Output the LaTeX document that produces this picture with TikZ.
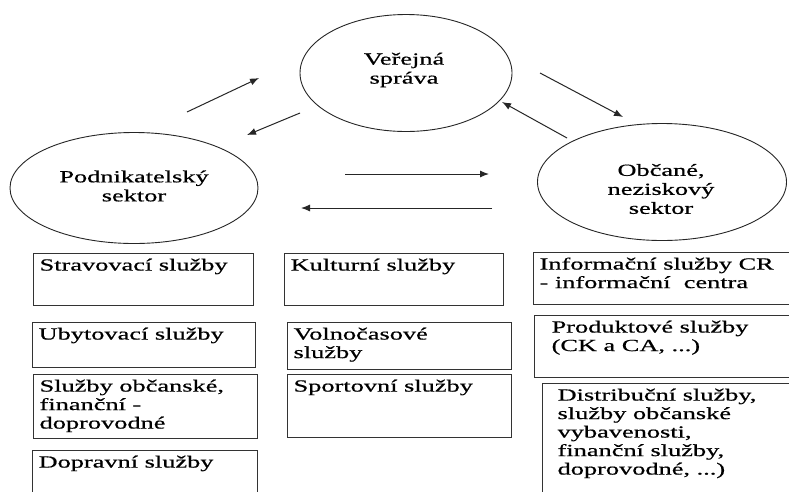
\documentclass[tikz,border=0pt]{standalone}
\usepackage{fontspec}
\setmainfont[FakeStretch=1.55,FakeBold=0.6]{Liberation Serif}
\usetikzlibrary{shapes.geometric,arrows.meta}
\tikzset{
  oval/.style={ellipse, draw=black!85, line width=0.9pt, inner sep=0pt},
  ovaltext/.style={align=center, font=\rmfamily\fontsize{17}{19}\selectfont, inner sep=0pt},
  sbox/.style={draw=black!80, line width=1.2pt, anchor=north west, inner xsep=6pt, inner ysep=4pt, font=\rmfamily\fontsize{17}{18.5}\selectfont},
  arr/.style={draw=black!85, line width=1pt, -{Latex[length=9pt,width=7pt]}}
}
\newcommand{\bxt}[3]{\parbox[t][#1][t]{#2}{\raggedright\strut #3}}
\begin{document}
\begin{tikzpicture}[x=1pt,y=-1pt]
\clip (0,0) rectangle (789,491);
\fill[white] (0,0) rectangle (789,491);
% ellipses
\node[oval, minimum width=212pt, minimum height=117pt] (vs) at (406,73) {};
\node[ovaltext] (vst) at (404,70) {Veřejná\\správa};
\node[oval, minimum width=248pt, minimum height=111pt] (ps) at (134,188) {};
\node[ovaltext] (pst) at (134,186) {Podnikatelský\\sektor};
\node[oval, minimum width=249pt, minimum height=117pt] (ob) at (662,182) {};
\node[ovaltext] (obt) at (661,189) {Občané,\\neziskový\\sektor};
% arrow coordinates
\coordinate (a1s) at (187,112); \coordinate (a1e) at (259,78);
\coordinate (a2s) at (300,113); \coordinate (a2e) at (247,135);
\coordinate (a3s) at (540,73);  \coordinate (a3e) at (623,117);
\coordinate (a4s) at (567,138); \coordinate (a4e) at (502,102);
\coordinate (a5s) at (345,174); \coordinate (a5e) at (489,174);
\coordinate (a6s) at (492,208); \coordinate (a6e) at (301,208);
\draw[arr] (a1s) -- (a1e);
\draw[arr] (a2s) -- (a2e);
\draw[arr] (a3s) -- (a3e);
\draw[arr] (a4s) -- (a4e);
\draw[arr] (a5s) -- (a5e);
\draw[arr] (a6s) -- (a6e);
% left column
\node[sbox] (b1) at (33,253) {\bxt{44pt}{208pt}{Stravovací služby}};
\node[sbox] (b2) at (32,322) {\bxt{37pt}{211pt}{Ubytovací služby}};
\node[sbox] (b3) at (33,374) {\bxt{56pt}{212pt}{Služby občanské,\\finanční -\\doprovodné}};
\node[sbox] (b4) at (32,450) {\bxt{60pt}{213pt}{Dopravní služby}};
% middle column
\node[sbox] (b5) at (284,253) {\bxt{44pt}{207pt}{Kulturní služby}};
\node[sbox] (b6) at (287,322) {\bxt{39pt}{212pt}{Volnočasové\\služby}};
\node[sbox] (b7) at (287,374) {\bxt{55pt}{212pt}{Sportovní služby}};
% right column
\node[sbox] (b8) at (533,252) {\bxt{44pt}{270pt}{Informační služby CR\\- informační\ \ centra}};
\node[sbox, inner xsep=17pt] (b9) at (534,315) {\bxt{54pt}{250pt}{Produktové služby\\(CK a CA, ...)}};
\node[sbox, inner xsep=15pt] (b10) at (542,383) {\bxt{120pt}{250pt}{Distribuční služby,\\služby občanské\\vybavenosti,\\finanční služby,\\doprovodné, ...)}};
\end{tikzpicture}
\end{document}
